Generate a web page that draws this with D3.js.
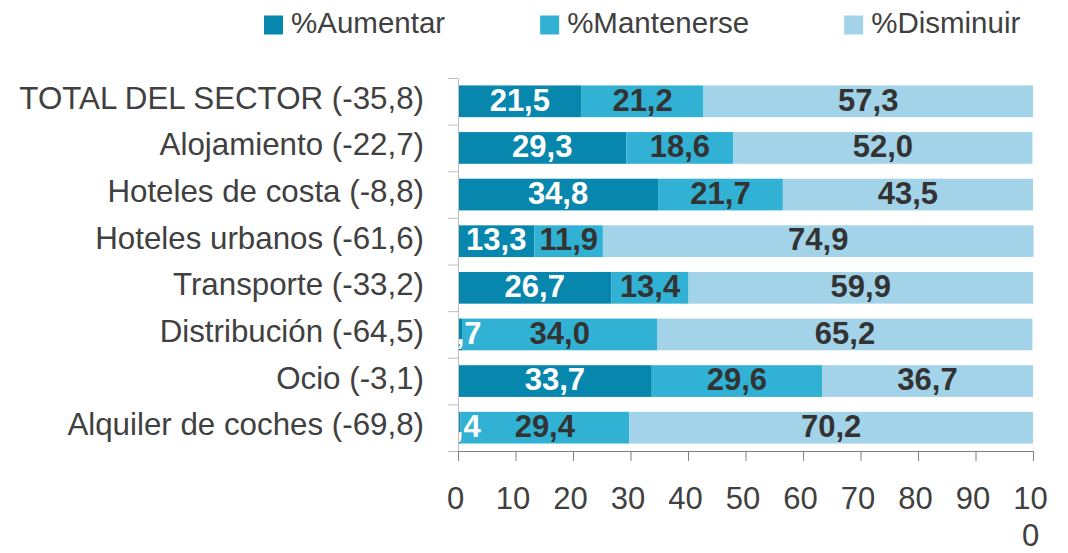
<!DOCTYPE html>
<html>
<head>
<meta charset="utf-8">
<script src="https://cdn.jsdelivr.net/npm/d3@7"></script>
<style>
  body { margin: 0; background: #fff; }
  svg { font-family: 'Liberation Sans', Arial, sans-serif; }
  .cat { font-size: 31.3px; fill: #404040; }
  .legend text { font-size: 29.5px; fill: #404040; }
  .val { font-size: 31px; font-weight: bold; }
  .x-axis text { font-size: 31px; fill: #404040; }
</style>
</head>
<body>
<script>
const categories = [
  "TOTAL DEL SECTOR (-35,8)",
  "Alojamiento (-22,7)",
  "Hoteles de costa (-8,8)",
  "Hoteles urbanos (-61,6)",
  "Transporte (-33,2)",
  "Distribución (-64,5)",
  "Ocio (-3,1)",
  "Alquiler de coches (-69,8)"
];
const seriesNames = ["%Aumentar", "%Mantenerse", "%Disminuir"];
const aumentar = [21.5, 29.3, 34.8, 13.3, 26.7, 0.7, 33.7, 0.4];
const mantenerse = [21.2, 18.6, 21.7, 11.9, 13.4, 34.0, 29.6, 29.4];
const disminuir = [57.3, 52.0, 43.5, 74.9, 59.9, 65.2, 36.7, 70.2];
const xTicks = [0, 10, 20, 30, 40, 50, 60, 70, 80, 90, 100];

const colors = ["#0787ad", "#31b1d3", "#a3d3e8"];
const labelColors = ["#ffffff", "#333333", "#333333"];

const W = 1068, H = 553;
const svg = d3.select("body").append("svg").attr("width", W).attr("height", H);

const x = d3.scaleLinear().domain([0, 100]).range([458, 1033]);
const y = d3.scaleBand().domain(categories).range([78, 451])
  .paddingInner(0.32).paddingOuter(0.16);
const yEdge = d3.scaleLinear().domain([0, categories.length]).range([78, 451]);

const rows = categories.map((c, i) => ({
  cat: c, aumentar: aumentar[i], mantenerse: mantenerse[i], disminuir: disminuir[i]
}));
const keys = ["aumentar", "mantenerse", "disminuir"];
const stacked = d3.stack().keys(keys)(rows);

// clip so labels don't spill left of the plot
svg.append("clipPath").attr("id", "plot")
  .append("rect").attr("x", x(0)).attr("y", 0).attr("width", 700).attr("height", H);

const plot = svg.append("g").attr("clip-path", "url(#plot)");

stacked.forEach((layer, k) => {
  const g = plot.append("g");
  g.selectAll("rect").data(layer).join("rect")
    .attr("x", d => x(d[0]))
    .attr("y", d => y(d.data.cat))
    .attr("width", d => x(d[1]) - x(d[0]))
    .attr("height", y.bandwidth())
    .attr("fill", colors[k]);
});

stacked.forEach((layer, k) => {
  plot.append("g").selectAll("text").data(layer).join("text")
    .attr("class", "val")
    .attr("x", d => x((d[0] + d[1]) / 2))
    .attr("y", d => y(d.data.cat) + y.bandwidth() / 2)
    .attr("dy", "0.3em")
    .attr("text-anchor", "middle")
    .attr("fill", labelColors[k])
    .text(d => d3.format(".1f")(d[1] - d[0]).replace(".", ","));
});

// y axis: line with ticks at band edges
const yAxis = svg.append("g")
  .attr("transform", `translate(${x(0)},0)`)
  .call(d3.axisLeft(yEdge).ticks(categories.length).tickFormat("").tickSize(10).tickSizeOuter(0));
yAxis.selectAll("line, path").attr("stroke", "#bfbfbf");

svg.append("g").selectAll("text").data(categories).join("text")
  .attr("class", "cat")
  .attr("x", 424)
  .attr("y", d => y(d) + y.bandwidth() / 2)
  .attr("dy", "0.24em")
  .attr("text-anchor", "end")
  .text(d => d);

// x axis
const xAxis = svg.append("g")
  .attr("class", "x-axis")
  .attr("transform", `translate(0,${yEdge(categories.length)})`)
  .call(d3.axisBottom(x).tickValues(xTicks).tickSize(10).tickSizeOuter(0).tickFormat(""));
xAxis.select(".domain").attr("stroke", "#808080");
xAxis.selectAll(".tick line").attr("stroke", "#808080");
xAxis.selectAll(".tick").each(function (d) {
  const t = d3.select(this).append("text")
    .attr("x", -3).attr("y", 58).attr("dy", 0)
    .attr("text-anchor", "middle");
  const s = String(d);
  // "100" wraps onto two lines in the original
  const parts = s.length > 2 ? [s.slice(0, 2), s.slice(2)] : [s];
  parts.forEach((p, i) => {
    t.append("tspan").attr("x", -3).attr("dy", i === 0 ? 0 : 37).text(p);
  });
});

// legend
const legend = svg.append("g").attr("class", "legend");
let lx = 264;
seriesNames.forEach((name, k) => {
  legend.append("rect").attr("x", lx).attr("y", 15.5).attr("width", 19).attr("height", 19)
    .attr("fill", colors[k]);
  const t = legend.append("text").attr("x", lx + 27).attr("y", 33).text(name);
  lx += 27 + t.node().getComputedTextLength() + 95;
});
</script>
</body>
</html>
